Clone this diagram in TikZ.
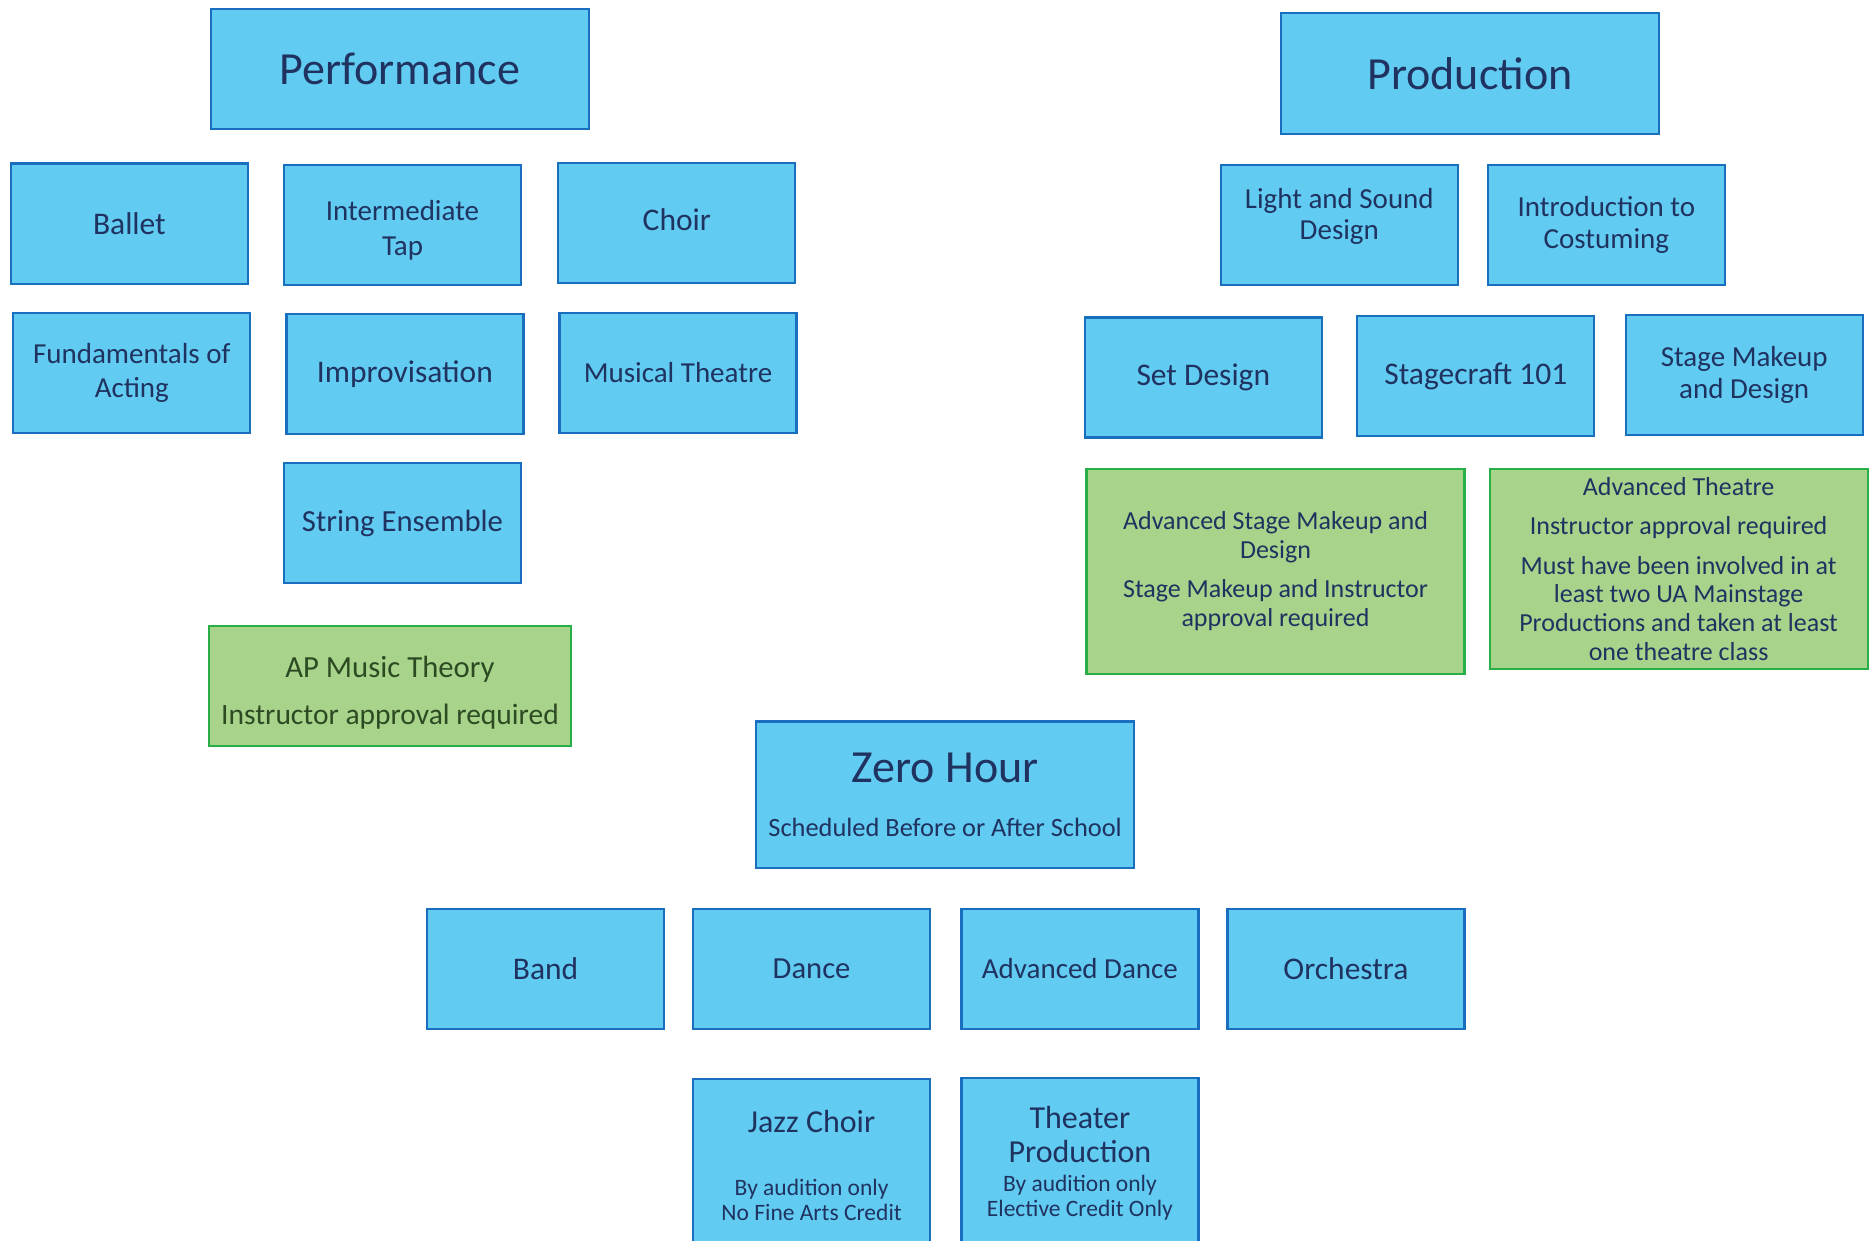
\documentclass[tikz,border=0pt]{standalone}
\usepackage{fontspec}
\setmainfont{Carlito}
\usepackage{tikz}
\definecolor{boxfill}{RGB}{97,203,241}
\definecolor{boxline}{RGB}{26,110,190}
\definecolor{boxtext}{RGB}{31,50,96}
\definecolor{notefill}{RGB}{168,211,139}
\definecolor{noteline}{RGB}{40,175,70}
\definecolor{notetext}{RGB}{45,75,35}

\begin{document}
\begin{tikzpicture}[x=1pt,y=-1pt]
\tikzstyle{every node}=[draw=boxline,fill=boxfill,text=boxtext,line width=2.2pt,shape=rectangle,align=center,inner sep=0pt,minimum width=237pt,minimum height=120pt,font=\fontsize{31.5}{38}\selectfont];
\tikzstyle{head}=[minimum width=378pt,font=\fontsize{46}{55}\selectfont];
\tikzstyle{twoline}=[font=\fontsize{29}{32}\selectfont];
\tikzstyle{note}=[draw=noteline,fill=notefill,minimum width=378pt,font=\fontsize{26}{28.6}\selectfont];
\useasboundingbox (0,0) rectangle (1870,1241);
\clip (0,0) rectangle (1870,1241);
\fill[white] (0,0) rectangle (1870,1241);
% performance
\node[head] (perf) at (400,69) {Performance};
\node (ballet) at (129.4,223.6) {Ballet};
\node[twoline] (itap) at (402.5,224.8) {\rule{0pt}{31pt}Intermediate\\[3pt]Tap};
\node (choir) at (676.8,223) {Choir\rule[-7pt]{0pt}{7pt}};
\node[twoline] (acting) at (131.8,372.7) {Fundamentals of\\[1.5pt]Acting};
\node (improv) at (404.9,373.9) {Improvisation};
\node[twoline] (musical) at (678,372.7) {Musical Theatre};
\node[font=\fontsize{30.7}{36}\selectfont] (string) at (402.5,523) {String Ensemble};
\node[note,minimum width=362.5pt,text=notetext,font=\fontsize{29.5}{46.5}\selectfont] (theory) at (390,686.3) {{\fontsize{30.7}{36}\selectfont\rule{0pt}{34pt}AP Music Theory}\\Instructor approval required};
% production
\node[head,minimum height=121pt] (prod) at (1470,73.5) {Production};
\node[twoline] (light) at (1339.3,224.8) {Light and Sound\\[-1pt]Design\rule[-22pt]{0pt}{22pt}};
\node[twoline] (costume) at (1606.4,224.8) {Introduction to\\Costuming};
\node (set) at (1203.3,377.5) {Set Design};
\node (stagecraft) at (1475.8,376.3) {Stagecraft 101};
\node[twoline] (makeup) at (1744.2,375.1) {Stage Makeup\\and Design};
\node[note,minimum height=205pt] (advmakeup) at (1275.5,571.3) {Advanced Stage Makeup and\\Design\\[10.8pt]Stage Makeup and Instructor\\approval required};
\node[note,minimum height=200pt] (advtheatre) at (1678.6,568.9) {Advanced Theatre\\[10.8pt]Instructor approval required\\[10.8pt]Must have been involved in at\\least two UA Mainstage\\Productions and taken at least\\one theatre class};
% zero hour
\node[head,minimum height=146.7pt,font=\fontsize{26.4}{54}\selectfont] (zero) at (945.1,794.9) {{\fontsize{46}{55}\selectfont Zero Hour}\\Scheduled Before or After School};
\node (band) at (545.6,969) {Band};
\node[font=\fontsize{30.6}{36}\selectfont] (dance) at (811.6,969) {Dance};
\node[twoline] (advdance) at (1079.9,969) {Advanced Dance};
\node (orch) at (1345.9,969) {Orchestra};
\node[anchor=north,minimum height=173pt,font=\fontsize{23.5}{25}\selectfont] (jazz) at (811.6,1078) {{\fontsize{32}{38}\selectfont Jazz Choir}\\[37.5pt]By audition only\\No Fine Arts Credit};
\node[anchor=north,minimum height=170pt,font=\fontsize{23.5}{25}\selectfont] (theater) at (1079.9,1077) {{\fontsize{32}{38}\selectfont Theater}\\[9.5pt]{\fontsize{32}{38}\selectfont Production}\\[3.7pt]By audition only\\Elective Credit Only};
\end{tikzpicture}
\end{document}
